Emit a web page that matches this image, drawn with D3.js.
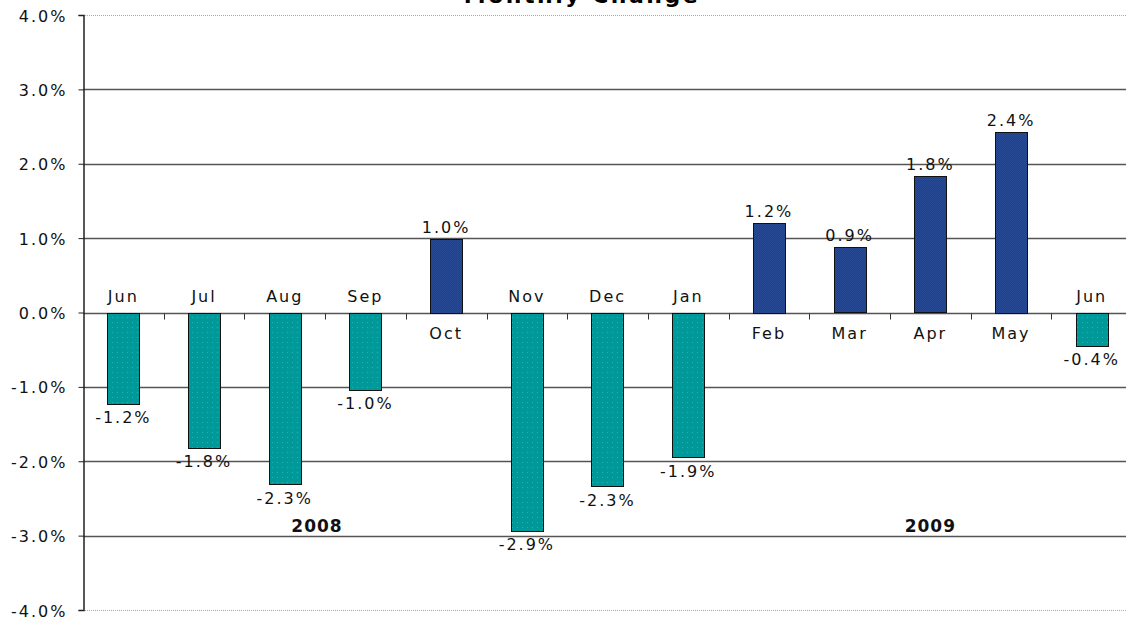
<!DOCTYPE html>
<html>
<head>
<meta charset="utf-8">
<script src="https://cdn.jsdelivr.net/npm/d3@7/dist/d3.min.js"></script>
<style>
  html, body { margin: 0; padding: 0; background: #fff; overflow: hidden; }
  svg { display: block; font-family: 'DejaVu Sans', Verdana, sans-serif; }
  .lbl { font-size: 16px; letter-spacing: 2px; fill: #111; }
</style>
</head>
<body>
<svg id="chart" width="1126" height="623"></svg>
<script>
const months = ['Jun', 'Jul', 'Aug', 'Sep', 'Oct', 'Nov', 'Dec', 'Jan', 'Feb', 'Mar', 'Apr', 'May', 'Jun'];
const values = [-1.22, -1.81, -2.3, -1.03, 0.99, -2.93, -2.33, -1.94, 1.21, 0.88, 1.83, 2.43, -0.44];
const valueLabels = ['-1.2%', '-1.8%', '-2.3%', '-1.0%', '1.0%', '-2.9%', '-2.3%', '-1.9%', '1.2%', '0.9%', '1.8%', '2.4%', '-0.4%'];
const yTicks = [-4, -3, -2, -1, 0, 1, 2, 3, 4];
const years = ['2008', '2009'];
const yearPos = [2.9, 10.5]; // in category units from the left edge

const svg = d3.select('#chart');
const plotLeft = 83, plotTop = 15, plotBottom = 610;
const step = 80.7;
const idx = months.map((d, i) => i);

const x = d3.scaleBand()
  .domain(idx)
  .range([plotLeft, plotLeft + step * months.length])
  .paddingInner(0.6)
  .paddingOuter(0.3);

const y = d3.scaleLinear().domain([-4, 4]).range([plotBottom, plotTop]);

// patterns for the bar fills
const defs = svg.append('defs');
const teal = defs.append('pattern').attr('id', 'pTeal')
  .attr('width', 5).attr('height', 5).attr('patternUnits', 'userSpaceOnUse');
teal.append('rect').attr('width', 5).attr('height', 5).attr('fill', '#009999');
teal.append('rect').attr('x', 2).attr('y', 2).attr('width', 1).attr('height', 1).attr('fill', '#2eb0b0');

const navy = defs.append('pattern').attr('id', 'pNavy')
  .attr('width', 2).attr('height', 2).attr('patternUnits', 'userSpaceOnUse');
navy.append('rect').attr('width', 2).attr('height', 2).attr('fill', '#1f3d88');
navy.append('rect').attr('width', 1).attr('height', 1).attr('fill', '#2a4c96');
navy.append('rect').attr('x', 1).attr('y', 1).attr('width', 1).attr('height', 1).attr('fill', '#2a4c96');

// title (cut off at the top, as in the source)
svg.append('text')
  .attr('x', 582).attr('y', 3)
  .attr('text-anchor', 'middle')
  .style('font-size', '22px').style('font-weight', 'bold').style('letter-spacing', '2.5px')
  .attr('fill', '#000')
  .text('Monthly Change');

// gridlines
svg.append('g').selectAll('line')
  .data(yTicks)
  .join('line')
  .attr('x1', plotLeft).attr('x2', 1126)
  .attr('y1', d => Math.round(y(d)) + 0.5).attr('y2', d => Math.round(y(d)) + 0.5)
  .attr('stroke', d => Math.abs(d) === 4 ? '#aaa' : '#555')
  .attr('stroke-dasharray', d => Math.abs(d) === 4 ? '1,1' : null)
  .attr('stroke-width', d => Math.abs(d) === 4 ? 1.2 : 1.5);

// y axis
const axisY = d3.axisLeft(y).tickValues(yTicks).tickSize(5).tickPadding(11)
  .tickFormat(d => d.toFixed(1) + '%');
const gy = svg.append('g').attr('transform', `translate(${plotLeft + 0.5},0)`).call(axisY);
gy.select('.domain').attr('stroke', '#222').attr('stroke-width', 1.5);
gy.selectAll('.tick line').attr('stroke', '#222');
gy.selectAll('.tick text')
  .attr('class', 'lbl').style('font-family', "'DejaVu Sans', Verdana, sans-serif")
  .style('font-size', '16px').attr('fill', '#222').attr('dy', '0.38em');

// category ticks on the zero line
const zero = Math.round(y(0)) + 0.5;
svg.append('g').selectAll('line')
  .data(idx.slice(1))
  .join('line')
  .attr('x1', d => Math.round(x.range()[0] + d * x.step()) + 0.5)
  .attr('x2', d => Math.round(x.range()[0] + d * x.step()) + 0.5)
  .attr('y1', zero).attr('y2', zero + 6)
  .attr('stroke', '#333');

// bars
svg.append('g').selectAll('rect')
  .data(values)
  .join('rect')
  .attr('x', (d, i) => Math.round(x(i)) + 0.5)
  .attr('width', Math.round(x.bandwidth()))
  .attr('y', d => Math.round(y(Math.max(0, d))) + 0.5)
  .attr('height', d => Math.round(Math.abs(y(d) - y(0))))
  .attr('fill', d => d < 0 ? 'url(#pTeal)' : 'url(#pNavy)')
  .attr('stroke', '#111').attr('stroke-width', 1);

const cx = i => x(i) + x.bandwidth() / 2;

// month labels
svg.append('g').selectAll('text')
  .data(months)
  .join('text')
  .attr('class', 'lbl')
  .attr('text-anchor', 'middle')
  .attr('x', (d, i) => cx(i))
  .attr('y', (d, i) => values[i] < 0 ? y(0) - 11 : y(0) + 26)
  .text(d => d);

// value labels
svg.append('g').selectAll('text')
  .data(values)
  .join('text')
  .attr('class', 'lbl')
  .attr('text-anchor', 'middle')
  .attr('x', (d, i) => cx(i))
  .attr('y', d => d < 0 ? y(d) + 20 : y(d) - 6)
  .text((d, i) => valueLabels[i]);

// year labels
svg.append('g').selectAll('text')
  .data(years)
  .join('text')
  .attr('text-anchor', 'middle')
  .attr('x', (d, i) => plotLeft + yearPos[i] * x.step())
  .attr('y', 532)
  .style('font-size', '17px').style('font-weight', 'bold').style('letter-spacing', '1px')
  .attr('fill', '#111')
  .text(d => d);
</script>
</body>
</html>
